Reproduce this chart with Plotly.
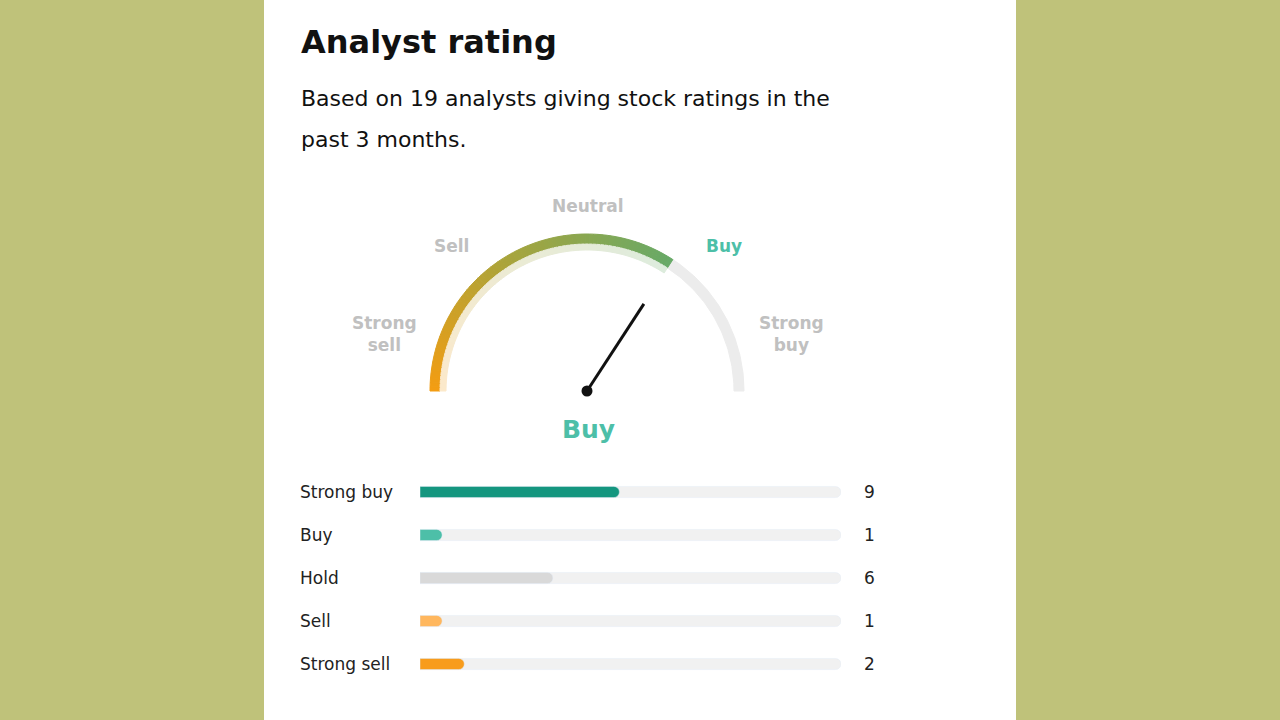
import numpy as np
import plotly.graph_objects as go

categories = ["Strong buy", "Buy", "Hold", "Sell", "Strong sell"]
counts = [9, 1, 6, 1, 2]
scores = [5, 4, 3, 2, 1]
bar_colors = ["#14967f", "#4dbfa8", "#d9d9d9", "#ffb75e", "#f89c1c"]
gauge_labels = ["Strong<br>sell", "Sell", "Neutral", "Buy", "Strong<br>buy"]
title = "Analyst rating"
subtitle_lines = ["Based on 19 analysts giving stock ratings in the", "past 3 months."]
verdict = "Buy"

W, H = 1280, 720
total = sum(counts)
score = sum(c * s for c, s in zip(counts, scores)) / total
frac = (score - 1) / 4  # 0 = strong sell, 1 = strong buy
end_ang = np.pi * (1 - frac)

fig = go.Figure()
FONT = "DejaVu Sans"

cx, cy, R = 587, 391, 157
fig.update_layout(
    xaxis2=dict(domain=[(cx - 220) / W, (cx + 220) / W], range=[-220 / R, 220 / R], visible=False, fixedrange=True),
    yaxis2=dict(domain=[(H - cy - 60) / H, (H - cy + 200) / H], range=[-60 / R, 200 / R], visible=False, fixedrange=True),
)

def band(a0, a1, r0, r1, color, n=4):
    t = np.linspace(a0, a1, n)
    xs = np.concatenate([r1 * np.cos(t), r0 * np.cos(t[::-1])])
    ys = np.concatenate([r1 * np.sin(t), r0 * np.sin(t[::-1])])
    fig.add_trace(go.Scatter(x=np.append(xs, xs[0]), y=np.append(ys, ys[0]), mode="lines", fill="toself",
                             fillcolor=color, line=dict(width=1, color=color), xaxis="x2", yaxis="y2",
                             hoverinfo="skip", showlegend=False))

band(0, end_ang, 147 / R, 157 / R, "#ececec", 60)
stops = [(0.0, (243, 157, 18)), (0.5, (166, 165, 62)), (1.0, (104, 170, 104))]
def col(u):
    for (u0, c0), (u1, c1) in zip(stops[:-1], stops[1:]):
        if u <= u1:
            k = (u - u0) / (u1 - u0)
            return tuple(c0[i] + k * (c1[i] - c0[i]) for i in range(3))
    return stops[-1][1]
nseg = 80
angs = np.linspace(np.pi, end_ang, nseg + 1)
for i in range(nseg):
    u = i / (nseg - 1)
    r, g, b = col(u)
    lr, lg, lb = (int(255 - 0.22 * (255 - v)) for v in (r, g, b))
    band(angs[i], angs[i + 1], 147 / R, 157 / R, f"rgb({int(r)},{int(g)},{int(b)})")
    band(angs[i], angs[i + 1], 141 / R, 147 / R, f"rgb({lr},{lg},{lb})")

nl = 104 / R
fig.add_trace(go.Scatter(x=[0, nl * np.cos(end_ang)], y=[0, nl * np.sin(end_ang)], mode="lines",
                         line=dict(color="#111", width=3), xaxis="x2", yaxis="y2", hoverinfo="skip", showlegend=False))
fig.add_trace(go.Scatter(x=[0], y=[0], mode="markers", marker=dict(color="#111", size=11),
                         xaxis="x2", yaxis="y2", hoverinfo="skip", showlegend=False))

lab_pos = [(384, 334), (451, 246), (588, 206), (724, 246), (791, 334)]
for t, (px, py) in zip(gauge_labels, lab_pos):
    c = "#4dbfa8" if t == verdict else "#c0c0c0"
    fig.add_annotation(x=px / W, y=1 - py / H, xref="paper", yref="paper", text=f"<b>{t}</b>", showarrow=False,
                       font=dict(family=FONT, size=17, color=c), xanchor="center", yanchor="middle", align="center")
fig.add_annotation(x=588 / W, y=1 - 429 / H, xref="paper", yref="paper", text=f"<b>{verdict}</b>", showarrow=False,
                   font=dict(family=FONT, size=25, color="#4dbfa8"), xanchor="center", yanchor="middle")

row0, gap = 492, 43
top = row0 - gap / 2
bot = row0 + gap * 4.5
ydom = [(H - bot) / H, (H - top) / H]
xdom = [420 / W, 841 / W]
fig.add_trace(go.Bar(y=categories, x=[total] * 5, orientation="h", marker=dict(color="#f1f1f1", cornerradius="50%"),
                     width=0.26, xaxis="x3", yaxis="y3", hoverinfo="skip", showlegend=False))
fig.add_trace(go.Bar(y=categories, x=counts, orientation="h", marker=dict(color=bar_colors, cornerradius="50%"),
                     width=0.26, xaxis="x4", yaxis="y4", showlegend=False))
ax_y = dict(domain=ydom, range=[4.5, -0.5], visible=False, fixedrange=True,
            categoryorder="array", categoryarray=categories)
fig.update_layout(
    xaxis3=dict(domain=xdom, range=[0, total], visible=False, fixedrange=True),
    yaxis3=ax_y,
    xaxis4=dict(domain=xdom, range=[0, total], visible=False, fixedrange=True, anchor="y4"),
    yaxis4=dict(ax_y, anchor="x4"),
    barmode="group",
)
for i, (c, n) in enumerate(zip(categories, counts)):
    y = 1 - (row0 + gap * i) / H
    fig.add_annotation(x=298 / W, y=y, xref="paper", yref="paper", text=c, showarrow=False,
                       font=dict(family=FONT, size=17, color="#222"), xanchor="left", yanchor="middle")
    fig.add_annotation(x=877 / W, y=y, xref="paper", yref="paper", text=str(n), showarrow=False,
                       font=dict(family=FONT, size=17, color="#222"), xanchor="right", yanchor="middle")

fig.add_annotation(x=299 / W, y=1 - 42 / H, xref="paper", yref="paper", text=f"<b>{title}</b>", showarrow=False,
                   font=dict(family=FONT, size=32, color="#111"), xanchor="left", yanchor="middle")
for i, line in enumerate(subtitle_lines):
    fig.add_annotation(x=299 / W, y=1 - (99 + 40 * i) / H, xref="paper", yref="paper", text=line, showarrow=False,
                       font=dict(family=FONT, size=22, color="#111"), xanchor="left", yanchor="middle")

fig.add_shape(type="rect", xref="paper", yref="paper", x0=264 / W, x1=1016 / W, y0=0, y1=1,
              fillcolor="white", line_width=0, layer="below")
fig.update_layout(width=W, height=H, margin=dict(l=0, r=0, t=0, b=0), paper_bgcolor="#bfc27a",
                  plot_bgcolor="rgba(0,0,0,0)",
                  xaxis=dict(visible=False), yaxis=dict(visible=False))
fig.write_html("out.html", config={"displayModeBar": False})
with open("out.html") as f:
    html = f.read()
html = html.replace("<body>", '<body style="margin:0;overflow:hidden">', 1)
with open("out.html", "w") as f:
    f.write(html)
